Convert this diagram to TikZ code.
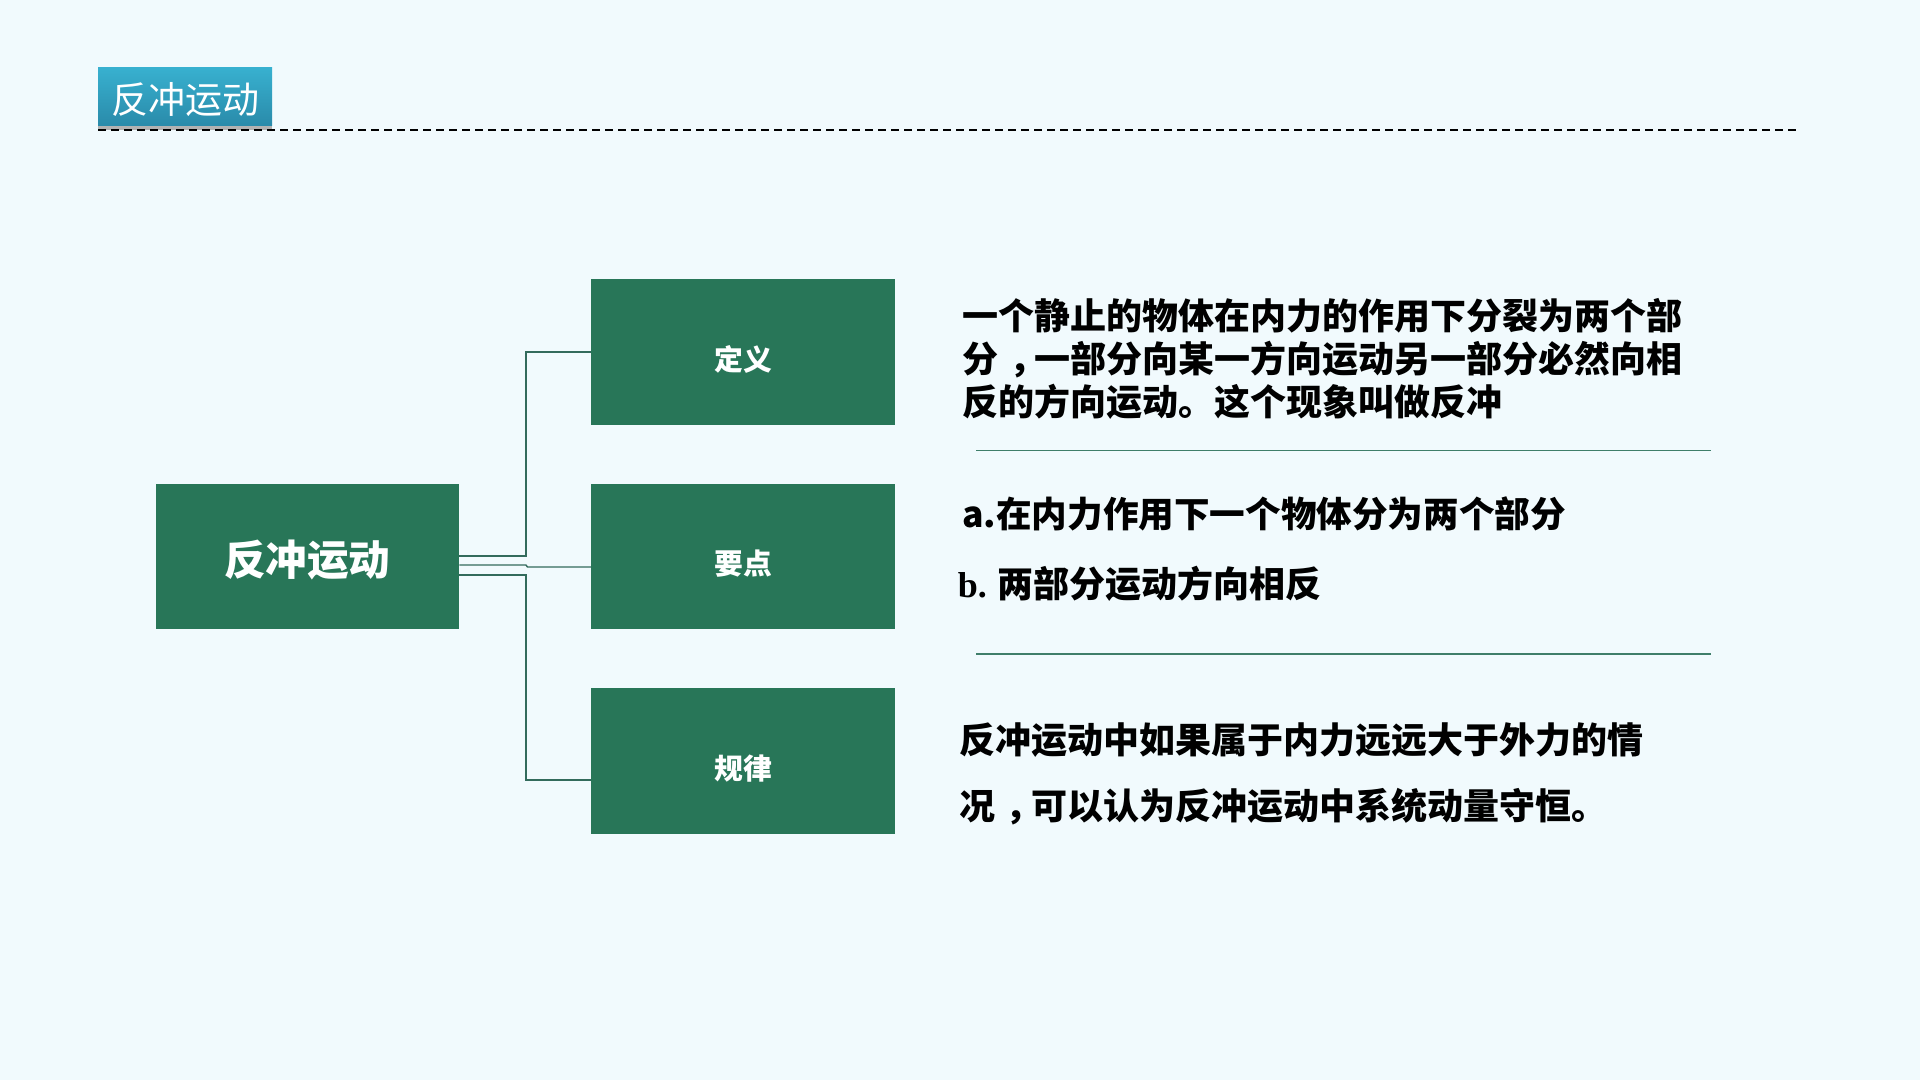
\documentclass[tikz,border=0pt]{standalone}
\usepackage{fontspec}
\setmainfont{Liberation Serif}
\newfontfamily\cjk{Noto Sans CJK SC}
\definecolor{bgc}{HTML}{F1FAFD}
\definecolor{boxgreen}{HTML}{287658}
\definecolor{connc}{HTML}{336B5C}
\definecolor{sepc}{HTML}{3F7E6A}
\definecolor{ttop}{HTML}{38B1D0}
\definecolor{tbot}{HTML}{2A8BAA}
\newcommand{\fwcomma}{\kern0.3em，\kern-0.3em}
\begin{document}
\begin{tikzpicture}[x=1pt,y=-1pt,
  gbox/.style={fill=boxgreen, draw=none, inner sep=0pt, minimum width=303.6pt, minimum height=145.8pt},
  blab/.style={text=white, inner sep=0pt, font=\cjk\bfseries\fontsize{28.8}{30}\selectfont},
  mlab/.style={text=white, inner sep=0pt, font=\cjk\bfseries\fontsize{41.6}{44}\selectfont},
  conn/.style={draw=connc, line width=1.4pt},
  sepline/.style={draw=sepc, line width=1.3pt},
  txt/.style={anchor=base west, inner sep=0pt, text=black, font=\cjk\bfseries\fontsize{36}{40}\selectfont},
  txta/.style={txt, font=\cjk\bfseries\fontsize{35.6}{38}\selectfont}
]
\fill[bgc] (0,0) rectangle (1920,1080);
\useasboundingbox (0,0) rectangle (1920,1080);

% title
\fill[black!30] (98,124) rectangle (272,130);
\node[top color=ttop, bottom color=tbot, draw=none, inner sep=0pt, minimum width=174pt, minimum height=58pt] (title) at (185,96) {};
\node[text=white, inner sep=0pt, font=\cjk\fontsize{37}{40}\selectfont] (titlet) at (185.5,100) {反冲运动};
\coordinate (dl) at (98,130);
\coordinate (dr) at (1800,130);
\draw[black, line width=1.8pt, dash pattern=on 8pt off 5pt] (dl) -- (dr);

% boxes
\node[gbox] (main) at (307.3,556.5) {};
\node[gbox] (def) at (743.2,352) {};
\node[gbox] (key) at (743.2,556.5) {};
\node[gbox] (law) at (743.2,761) {};
\node[mlab] (mainl) at (307.3,559.6) {反冲运动};
\node[blab] (defl) at (743.2,359) {定义};
\node[blab] (keyl) at (743.2,564) {要点};
\node[blab] (lawl) at (743.2,768.5) {规律};

% connectors
\coordinate (ja) at (526,556);
\coordinate (jb) at (526,565);
\coordinate (jb2) at (527.5,567);
\coordinate (jc) at (526,575);
\draw[conn] (main.east |- ja) -- (ja) |- (def.west);
\draw[conn] (main.east |- jb) -- (jb) -- (jb2) -- (key.west |- jb2);
\draw[conn] (main.east |- jc) -- (jc) |- (law.west |- 0,780);

% separators
\coordinate (s1l) at (976,450.6);
\coordinate (s1r) at (1710.6,450.6);
\coordinate (s2l) at (976,653.9);
\coordinate (s2r) at (1710.6,653.9);
\draw[sepline] (s1l) -- (s1r);
\draw[sepline] (s2l) -- (s2r);

% texts
\node[txt] (p1a) at (962,329.7) {一个静止的物体在内力的作用下分裂为两个部};
\node[txt] (p1b) at (962,372.5) {分\fwcomma 一部分向某一方向运动另一部分必然向相};
\node[txt] (p1c) at (962,415.3) {反的方向运动。这个现象叫做反冲};
\node[txta] (pa) at (962,527) {a.在内力作用下一个物体分为两个部分};
\node[txt] (pb) at (957.6,597.7) {{\rmfamily\bfseries b.} 两部分运动方向相反};
\node[txt] (p3a) at (958.8,753.3) {反冲运动中如果属于内力远远大于外力的情};
\node[txt] (p3b) at (958.8,819.4) {况\fwcomma 可以认为反冲运动中系统动量守恒。};
\end{tikzpicture}
\end{document}
